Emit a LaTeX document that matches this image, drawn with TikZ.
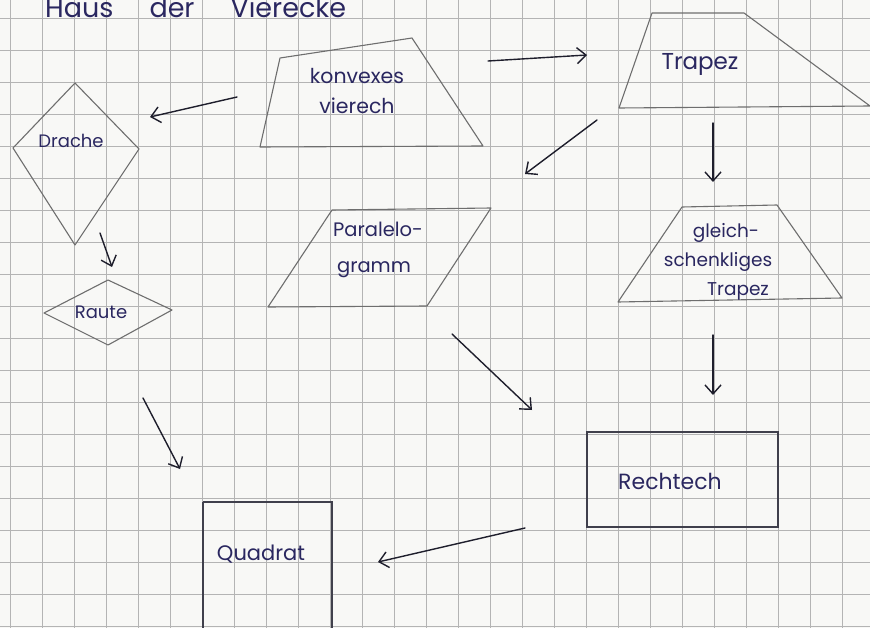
\documentclass[tikz,border=0pt]{standalone}
\usepackage{fontspec}
\setmainfont{Poppins}
\usetikzlibrary{arrows.meta}
\definecolor{ink}{HTML}{2A2760}
\definecolor{pen}{HTML}{1E1E2C}
\definecolor{pencil}{HTML}{6E6E6E}
\definecolor{paper}{HTML}{F8F8F6}
\definecolor{gridc}{HTML}{B4B4B4}
\tikzset{
  shapeline/.style={draw=pencil, line width=1.1pt, line join=round},
  boxline/.style={draw=pen!85, line width=1.1pt},
  handarrow/.style={draw=pen, line width=1.4pt, line cap=round, -{Straight Barb[length=9pt,width=16pt,line width=1.4pt]}},
  label/.style={text=ink, font=\fontsize{18}{20}\selectfont, inner sep=0pt, align=center},
}
\begin{document}
\begin{tikzpicture}[x=1pt,y=-1pt]
\useasboundingbox (0,0) rectangle (870,628);
\clip (0,0) rectangle (870,628);
\fill[paper] (0,0) rectangle (870,628);
% grid paper
\foreach \i in {0,...,27} \draw[gridc, line width=0.9pt] (10+32*\i,0) -- (10+32*\i,628);
\foreach \j in {0,...,19} \draw[gridc, line width=0.9pt] (0,18+32*\j) -- (870,18+32*\j);

% title (cut off at top, as in the reference)
\node[text=ink, font=\fontsize{27}{29}\selectfont, anchor=base west, inner sep=0pt] (title) at (45,18) {Haus\hspace{36pt}der\hspace{36pt}Vierecke};

% Drache (kite)
\draw[shapeline] (75,83) -- (139,149) -- (75,245) -- (13,148) -- cycle;
\node[label] (drache) at (71,141) {Drache};

% Raute (rhombus)
\draw[shapeline] (108,280) -- (172,310) -- (108,345) -- (44,313) -- cycle;
\node[label] (raute) at (101,312) {Raute};

% konvexes Viereck
\draw[shapeline] (280,58) -- (412,38) -- (483,146) -- (260,147) -- cycle;
\node[label, font=\fontsize{20.5}{30}\selectfont] (konvex) at (357,91) {konvexes\\vierech};

% Trapez
\draw[shapeline] (652,13) -- (744,13) -- (870,106) -- (619,108) -- cycle;
\node[label, font=\fontsize{23}{25}\selectfont] (trapez) at (700,64) {Trapez};

% gleichschenkliges Trapez
\draw[shapeline] (682,207) -- (777,205) -- (842,298) -- (618,302) -- cycle;
\node[label, font=\fontsize{18.5}{29}\selectfont] (gleich) at (718,262) {\hspace*{16pt}gleich-\\schenkliges\\\hspace*{40pt}Trapez};

% Parallelogramm
\draw[shapeline] (332,210) -- (491,208) -- (427,306) -- (268,307) -- cycle;
\node[label, font=\fontsize{19.5}{36}\selectfont, align=left] (para) at (378,250) {Paralelo-\\\hspace*{4pt}gramm};

% Rechteck
\draw[boxline] (587,432) rectangle (778,527);
\node[label, font=\fontsize{22}{24}\selectfont] (recht) at (670,481) {Rechtech};

% Quadrat
\draw[boxline] (203,502) -- (203,640) (203,502) -- (332,502) -- (332,640);
\node[label, font=\fontsize{21}{23}\selectfont] (quadrat) at (261,554) {Quadrat};

% arrow end points
\coordinate (a1s) at (237,97);  \coordinate (a1e) at (150,117);
\coordinate (a2s) at (100,233); \coordinate (a2e) at (112,267);
\coordinate (a3s) at (488,61);  \coordinate (a3e) at (587,55);
\coordinate (a4s) at (597,120); \coordinate (a4e) at (525,174);
\coordinate (a5s) at (713,123); \coordinate (a5e) at (713,182);
\coordinate (a6s) at (452,334); \coordinate (a6e) at (532,410);
\coordinate (a7s) at (713,335); \coordinate (a7e) at (713,395);
\coordinate (a8s) at (143,398); \coordinate (a8e) at (180,469);
\coordinate (a9s) at (525,528); \coordinate (a9e) at (378,562);

\draw[handarrow] (a1s) -- (a1e);
\draw[handarrow] (a2s) -- (a2e);
\draw[handarrow] (a3s) -- (a3e);
\draw[handarrow] (a4s) -- (a4e);
\draw[handarrow] (a5s) -- (a5e);
\draw[handarrow] (a6s) -- (a6e);
\draw[handarrow] (a7s) -- (a7e);
\draw[handarrow] (a8s) -- (a8e);
\draw[handarrow] (a9s) -- (a9e);
\end{tikzpicture}
\end{document}
